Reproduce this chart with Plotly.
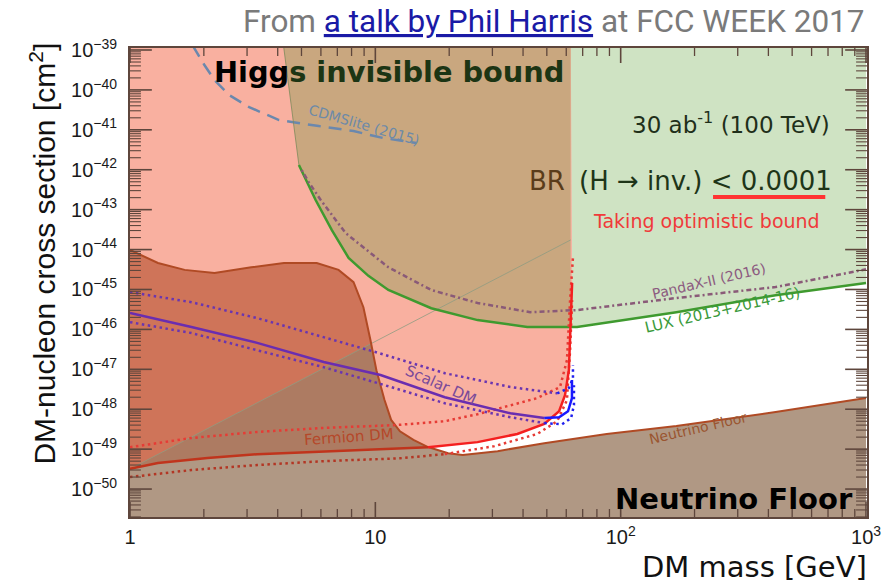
import numpy as np
import plotly.graph_objects as go

# ---------------------------------------------------------------------------
# Data: DM mass [GeV] and spin-independent DM-nucleon cross sections [cm^2]
# ---------------------------------------------------------------------------
MH_HALF = 62.5          # kinematic threshold m_H / 2
M_CROSS = 16.4          # mass where the neutrino floor meets the fermion curve
XS_TOP = 1e-38          # polygon closure above the plotted range
XS_BOTTOM = 1e-51       # polygon closure below the plotted range

cdms_mass = [1.8, 2.01, 2.21, 2.54, 3.06, 4.05, 5.88, 8.15, 10.8, 14.7]
cdms_xs = [1.3e-39, 4.2e-40, 1.77e-40, 7.4e-41, 3.7e-41, 1.76e-41, 1.24e-41,
           9.3e-42, 6.2e-42, 4.7e-42]

lux_mass = [4.15, 4.88, 5.11, 5.71, 6.64, 7.78, 9.37, 11.3, 16.9, 26.1, 41.6,
            62.5, 66.4, 168.6, 428, 1000]
lux_xs = [3e-39, 1.32e-42, 7.4e-43, 1.74e-43, 3.1e-44, 6.2e-45, 2.2e-45,
          9.7e-46, 3.4e-46, 1.71e-46, 1.15e-46, 1.15e-46, 1.15e-46, 2.7e-46,
          7.2e-46, 1.45e-45]

pandax_mass = [5.01, 5.35, 5.99, 7.56, 11.3, 16.9, 26.1, 42.8, 66.4, 168.6,
               428, 1000]
pandax_xs = [9.8e-43, 4.9e-43, 1.74e-43, 2.6e-44, 3.6e-45, 9.7e-46, 4.6e-46,
             2.7e-46, 3.05e-46, 6.1e-46, 1.15e-45, 3.2e-45]

floor_mass = [1, 1.30, 1.67, 2.21, 3.12, 4.24, 5.77, 7.08, 8.15, 8.94, 9.55,
              10.1, 10.9, 11.6, 12.6, 14.3, 16.4, 19.8, 22.7, 31.5, 48.8,
              87.7, 168.6, 428, 1000]
floor_xs = [9.8e-45, 4.6e-45, 3.1e-45, 2.6e-45, 3.6e-45, 4.6e-45, 4.6e-45,
            3.1e-45, 1.53e-45, 3.6e-46, 5.4e-47, 9.5e-48, 1.7e-48, 5.4e-49,
            2.8e-49, 1.7e-49, 1.13e-49, 7.9e-50, 7.1e-50, 8.9e-50, 1.41e-49,
            2.4e-49, 3.8e-49, 8.5e-49, 1.9e-48]

fermion_mass = [1, 1.30, 2.07, 3.30, 5.26, 8.38, 13.0, 16.4, 26.1, 37.9, 48.8,
                56.1, 59.3, 61.5, 62.2, 62.8, 63.4]
fermion_xs = [3.2e-50, 4.5e-50, 6.0e-50, 7.5e-50, 8.4e-50, 9.4e-50, 1.06e-49,
              1.12e-49, 1.5e-49, 2.4e-49, 4.3e-49, 8.9e-49, 2.25e-48, 9.5e-48,
              5.4e-47, 3.0e-46, 1.45e-45]

fermion_hi_mass = [1, 1.78, 3.30, 6.16, 12.05, 19.2, 26.1, 35.5, 45.7, 56.6,
                   60.4, 62.2, 63.9]
fermion_hi_xs = [1.12e-49, 1.9e-49, 2.7e-49, 3.4e-49, 4.0e-49, 5.0e-49,
                 7.5e-49, 1.26e-48, 1.9e-48, 3.6e-48, 1.7e-47, 5.4e-46, 6.4e-45]

fermion_lo_mass = [1, 1.78, 3.30, 6.16, 12.6, 19.2, 30.6, 45.7, 55.1, 60.4,
                   62.2, 63.4]
fermion_lo_xs = [2.0e-50, 3.0e-50, 4.0e-50, 5.0e-50, 5.9e-50, 7.5e-50,
                 1.19e-49, 2.4e-49, 5.0e-49, 1.7e-48, 3.0e-47, 5.4e-46]

scalar_mass = [1, 1.78, 3.30, 6.16, 10.5, 19.2, 35.5, 48.8, 56.1, 61.0, 63.3,
               63.3]
scalar_xs = [2.57e-46, 1.15e-46, 4.6e-47, 1.52e-47, 7.2e-48, 2.0e-48, 7.9e-49,
             6.0e-49, 6.3e-49, 8.9e-49, 1.9e-48, 5.4e-48]

scalar_hi_mass = [1, 1.78, 3.30, 6.16, 10.3, 19.2, 35.5, 55.1, 61.5, 63.9, 63.9]
scalar_hi_xs = [8.6e-46, 4.8e-46, 1.92e-46, 6.5e-47, 2.57e-47, 8.0e-48,
                3.6e-48, 2.5e-48, 3.4e-48, 6.0e-48, 1.27e-47]

scalar_lo_mass = [1, 1.78, 3.30, 6.16, 10.5, 19.2, 35.5, 48.8, 57.7, 62.8,
                  64.5, 64.5]
scalar_lo_xs = [1.52e-46, 8.1e-47, 3.0e-47, 1.13e-47, 4.3e-48, 1.41e-48,
                6.3e-49, 4.5e-49, 4.2e-49, 6.0e-49, 1.27e-48, 4.0e-48]

diag_mass = [1, 62.5]
diag_xs = [3.2e-50, 1.74e-44]

x_tickvals = [1, 10, 100, 1000]
x_ticktext = ["1", "10", "10<sup>2</sup>", "10<sup>3</sup>"]
y_exponents = list(range(-50, -38))
y_tickvals = [10.0 ** e for e in y_exponents]
y_ticktext = [f"10<sup>\u2212{abs(e)}</sup>" for e in y_exponents]

# Axis ranges (log10 units)
XMIN, XMAX = 0.0, 3.004
YMIN, YMAX = -50.70, -38.95

# ---------------------------------------------------------------------------
# Colours
# ---------------------------------------------------------------------------
C_PINK = "#f9b0a0"
C_TAN = "#c9a77f"
C_GREEN = "#cfe3c3"
C_FLOOR = "#b09884"
C_OVERLAP = "#cf7459"
C_OVERLAP_LOW = "#ad7b62"
C_AXIS = "#5e463c"

fig = go.Figure()


def region(xs, ys, color):
    fig.add_trace(go.Scatter(x=xs, y=ys, mode="lines", fill="toself",
                             fillcolor=color, line=dict(width=0),
                             hoverinfo="skip", showlegend=False))


def curve(xs, ys, color, width=2.5, dash="solid"):
    fig.add_trace(go.Scatter(x=xs, y=ys, mode="lines",
                             line=dict(color=color, width=width, dash=dash),
                             hoverinfo="skip", showlegend=False))


def split_curve(xs, ys, m_split, c_left, c_right, width=2.5, dash="solid"):
    idx = next(i for i, m in enumerate(xs) if m >= m_split)
    curve(xs[:idx + 1], ys[:idx + 1], c_left, width, dash)
    curve(xs[idx:], ys[idx:], c_right, width, dash)


# Neutrino floor region
region(floor_mass + [floor_mass[-1], floor_mass[0]],
       floor_xs + [XS_BOTTOM, XS_BOTTOM], C_FLOOR)

# LUX excluded region (above the LUX limit)
region(lux_mass + [lux_mass[-1], lux_mass[0]],
       lux_xs + [XS_TOP, XS_TOP], C_GREEN)

# Higgs-invisible excluded region for fermion DM
region([fermion_mass[0], MH_HALF] + fermion_mass[::-1],
       [XS_TOP, XS_TOP] + fermion_xs[::-1], C_PINK)

# Overlap: Higgs-invisible and LUX
lux_lo = [(m, s) for m, s in zip(lux_mass, lux_xs) if m <= MH_HALF]
region([m for m, _ in lux_lo] + [MH_HALF, lux_mass[0]],
       [s for _, s in lux_lo] + [XS_TOP, XS_TOP], C_TAN)

# Overlap: Higgs-invisible and neutrino floor
fl_lo = [(m, s) for m, s in zip(floor_mass, floor_xs) if m <= M_CROSS]
fe_lo = [(m, s) for m, s in zip(fermion_mass, fermion_xs) if m <= M_CROSS]
region([m for m, _ in fl_lo] + [m for m, _ in fe_lo[::-1]],
       [s for _, s in fl_lo] + [s for _, s in fe_lo[::-1]], C_OVERLAP)

# Lower part of that overlap, below the diagonal seam
lm_f = np.log10(floor_mass)
lv_f = np.log10(floor_xs)
dx = np.log10(diag_mass)
dy = np.log10(diag_xs)
diff = lv_f - (dy[0] + (dy[1] - dy[0]) * (lm_f - dx[0]) / (dx[1] - dx[0]))
i_cut = int(np.argmax(diff < 0))
t = diff[i_cut - 1] / (diff[i_cut - 1] - diff[i_cut])
cut_m = 10 ** (lm_f[i_cut - 1] + t * (lm_f[i_cut] - lm_f[i_cut - 1]))
cut_s = 10 ** (lv_f[i_cut - 1] + t * (lv_f[i_cut] - lv_f[i_cut - 1]))
low_fl = [(m, s) for m, s in zip(floor_mass[i_cut:], floor_xs[i_cut:])
          if m <= M_CROSS]
region([diag_mass[0], cut_m] + [m for m, _ in low_fl] + [m for m, _ in fe_lo[::-1]],
       [diag_xs[0], cut_s] + [s for _, s in low_fl] + [s for _, s in fe_lo[::-1]],
       C_OVERLAP_LOW)

# Curves
curve(diag_mass, diag_xs, "#8f9c82", width=0.8)
curve(cdms_mass, cdms_xs, "#6b88ad", width=2.5, dash="13px,8px")
curve(lux_mass[:2], lux_xs[:2], "#7d8a5c", width=0.8)
curve(lux_mass[1:], lux_xs[1:], "#3f9a2f", width=2.5)
curve(pandax_mass, pandax_xs, "#8a5a78", width=2.5, dash="2px,3px,5px,3px")
curve(floor_mass, floor_xs, "#b04a24", width=2)

curve(fermion_hi_mass, fermion_hi_xs, "#e63b35", width=2.5, dash="2.5px,3.5px")
split_curve(fermion_lo_mass, fermion_lo_xs, 19.2, "#b33624", "#e63b35",
            dash="2.5px,3.5px")
split_curve(fermion_mass, fermion_xs, M_CROSS, "#c0341c", "#f42020", width=2.5)

split_curve(scalar_hi_mass, scalar_hi_xs, 55, "#6a35b0", "#2020ee",
            dash="2.5px,3.5px")
split_curve(scalar_lo_mass, scalar_lo_xs, 48, "#6a35b0", "#2020ee",
            dash="2.5px,3.5px")
split_curve(scalar_mass, scalar_xs, 48, "#6a2db0", "#1a1aff", width=2.5)

# ---------------------------------------------------------------------------
# Axes
# ---------------------------------------------------------------------------
fig.update_xaxes(type="log", range=[XMIN, XMAX], tickmode="array",
                 tickvals=x_tickvals, ticktext=x_ticktext, ticks="",
                 showline=True, linecolor=C_AXIS, linewidth=1.8, mirror=True,
                 showgrid=False, zeroline=False, ticklabelstandoff=1,
                 tickfont=dict(family="Liberation Sans", size=20, color="#1a1a1a"))
fig.update_yaxes(type="log", range=[YMIN, YMAX], tickmode="array",
                 tickvals=y_tickvals, ticktext=y_ticktext, ticks="",
                 showline=True, linecolor=C_AXIS, linewidth=1.8, mirror=True,
                 showgrid=False, zeroline=False, ticklabelstandoff=7,
                 tickfont=dict(family="Liberation Sans", size=20, color="#1a1a1a"))

# Inward tick marks on all four sides (decades + 2..9 minor ticks)
L, R, T, B = 130, 872, 48, 517
W, H = R - L, B - T


def xfrac(m):
    return (np.log10(m) - XMIN) / (XMAX - XMIN)


def yfrac(s):
    return (np.log10(s) - YMIN) / (YMAX - YMIN)


def tick_shapes(fracs, length_px, vertical_axis, width):
    for f in fracs:
        if not 0 <= f <= 1:
            continue
        if vertical_axis:
            d = length_px / W
            ends = [(0, d), (1, 1 - d)]
            for a, b in ends:
                fig.add_shape(type="line", xref="paper", yref="paper",
                              x0=a, x1=b, y0=f, y1=f, layer="above",
                              line=dict(color=C_AXIS, width=width))
        else:
            d = length_px / H
            ends = [(0, d), (1, 1 - d)]
            for a, b in ends:
                fig.add_shape(type="line", xref="paper", yref="paper",
                              x0=f, x1=f, y0=a, y1=b, layer="above",
                              line=dict(color=C_AXIS, width=width))


x_minor_vals = [k * 10.0 ** e for e in range(0, 3) for k in range(2, 10)]
y_minor_vals = [k * 10.0 ** e for e in range(-51, -38) for k in range(2, 10)]

tick_shapes([yfrac(v) for v in y_tickvals], 22, True, 1.6)
tick_shapes([yfrac(v) for v in y_minor_vals], 11, True, 1.1)
tick_shapes([xfrac(v) for v in x_tickvals], 15, False, 1.6)
tick_shapes([xfrac(v) for v in x_minor_vals], 8, False, 1.3)

# ---------------------------------------------------------------------------
# Text
# ---------------------------------------------------------------------------
def px(x):
    return (x - L) / W


def py(y):
    return (B - y) / H


def label(text, x, y, size, color, family="DejaVu Sans", xanchor="center",
          angle=0, bold=False):
    fig.add_annotation(text=f"<b>{text}</b>" if bold else text,
                       x=px(x), y=py(y), xref="paper", yref="paper",
                       xanchor=xanchor, yanchor="middle", showarrow=False,
                       textangle=angle, borderpad=0,
                       font=dict(family=family, size=size, color=color))


label('<span style="color:#000000">Higg</span>s invisible bound',
      391, 72, 28.8, "#1c3514", bold=True)
label("30 ab<sup>-1</sup> (100 TeV)", 836, 123, 23, "#1f2f1a", xanchor="right")
label("BR", 569, 181, 26, "#5a3c1a", xanchor="right")
label("(H \u2192 inv.) < 0.0001", 581, 181, 26, "#1e3518", xanchor="left")
label("Taking optimistic bound", 710, 221, 19, "#f03a3a")
label("Neutrino Floor", 738, 499, 29, "#000000", bold=True)

label("CDMSlite (2015)", 366, 125, 14, "#6d8aa8", angle=16)
label("Scalar DM", 443, 385, 15, "#7a4a9a", angle=24)
label("Fermion DM", 350, 437, 15, "#b5482a", angle=-4)
label("PandaX-II (2016)", 713, 281, 14, "#8c5a80", angle=-13)
label("LUX (2013+2014-16)", 727, 310, 15, "#3a9a3a", angle=-13)
label("Neutrino Floor", 702, 428, 14, "#9a5530", angle=-13)

fig.add_shape(type="line", xref="paper", yref="paper",
              x0=px(717), x1=px(830), y0=py(197), y1=py(197),
              line=dict(color="#ff3333", width=4))

# Axis titles
label("DM-nucleon cross section [cm<sup>2</sup>]", 42, 254, 30, "#111111",
      family="Liberation Sans", angle=-90)
label("DM mass [GeV]", 873, 567, 29, "#111111", xanchor="right")

# Header strip with source note
fig.add_shape(type="rect", xref="paper", yref="paper", layer="above",
              x0=-0.3, x1=1.1, y0=py(39), y1=py(-20),
              fillcolor="white", line=dict(width=0))
fig.add_annotation(
    text='From <span style="color:#1a1aa6;text-decoration:underline">'
         'a talk by Phil Harris</span> at FCC WEEK 2017',
    x=px(872), y=py(22), xref="paper", yref="paper", xanchor="right",
    yanchor="middle", showarrow=False,
    font=dict(family="Roboto", size=31.5, color="#7a7a7a"))

fig.update_layout(width=893, height=584, autosize=False,
                  margin=dict(l=L, r=893 - R, t=T, b=584 - B),
                  paper_bgcolor="white", plot_bgcolor="white",
                  showlegend=False)

fig.write_html("out.html")
